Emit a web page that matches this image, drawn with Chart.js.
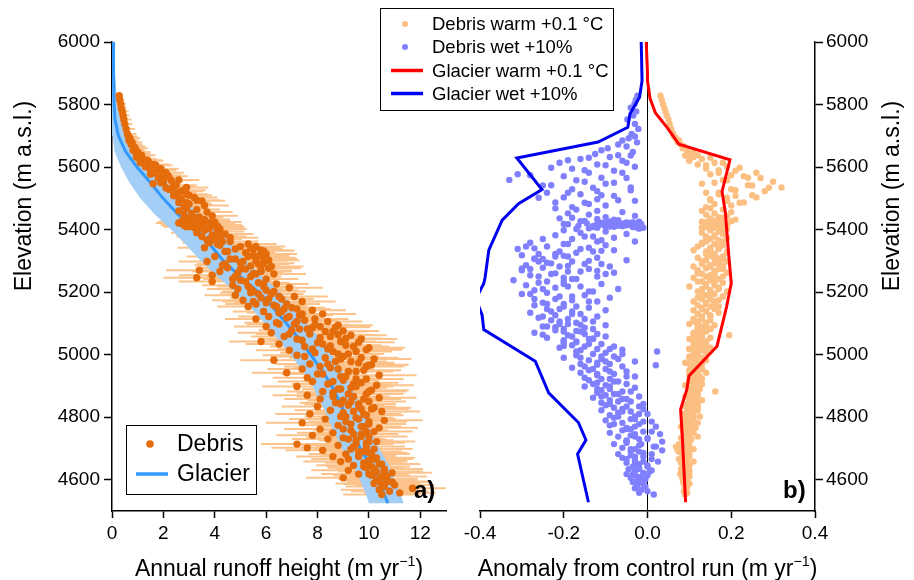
<!DOCTYPE html>
<html><head><meta charset="utf-8">
<script src="https://cdn.jsdelivr.net/npm/chart.js@4.4.1/dist/chart.umd.min.js"></script>
<style>
html,body{margin:0;padding:0;background:#fff;}
#wrap{position:relative;width:914px;height:580px;overflow:hidden;background:#fff;}
canvas{position:absolute;top:0;}
#ca{left:0;width:466px;height:580px;}
#cb{left:370px;width:544px;height:580px;}
</style></head><body>
<div id="wrap"><canvas id="ca" width="466" height="580"></canvas><canvas id="cb" width="544" height="580"></canvas></div>
<script>
// ---------- tick labels ----------
const elevTicks = [4600, 4800, 5000, 5200, 5400, 5600, 5800, 6000];
const runoffTicks = [0, 2, 4, 6, 8, 10, 12];
const anomTicks = [-0.4, -0.2, 0.0, 0.2, 0.4];

// ---------- debris cells (shared elevation) ----------
const debrisElev = [
5828,5815,5802,5790,5778,5765,5752,5738,5722,5706,
5698,5692,5685,5679,5672,5666,5660,5654,5648,5642,
5637,5632,5626,5620,5614,5608,5601,5595,5588,5582,
5577,5571,5565,5559,5553,5547,5541,5535,5529,5523,
5518,5513,5508,5503,5497,5492,5487,5482,5477,5472,
5468,5464,5460,5456,5452,5448,5444,5440,5436,5432,
5428,5425,5422,5420,5418,5415,5412,5409,5406,5402,
5426,5423,5419,5416,5413,5410,5407,5404,5421,5411,
5398,5394,5390,5386,5382,5378,5374,5370,5366,5362,
5358,5354,5350,5346,5342,5338,5334,5330,5326,5322,
5318,5314,5310,5306,5302,5298,5294,5290,5286,5282,
5278,5274,5270,5266,5262,5258,5254,5250,5246,5242,
5238,5234,5230,5226,5222,5218,5214,5210,5206,5202,
5198,5194,5190,5186,5182,5178,5174,5170,5166,5162,
5158,5154,5150,5146,5142,5138,5134,5130,5126,5122,
5118,5114,5110,5106,5102,5098,5094,5090,5086,5082,
5078,5074,5070,5066,5062,5058,5054,5050,5046,5042,
5038,5034,5030,5026,5022,5018,5014,5010,5006,5002,
4998,4994,4990,4986,4982,4978,4974,4970,4966,4962,
4958,4954,4950,4946,4942,4938,4934,4930,4926,4922,
4918,4914,4910,4906,4902,4898,4894,4890,4886,4882,
4878,4874,4870,4866,4862,4858,4854,4850,4846,4842,
4838,4834,4830,4826,4822,4818,4814,4810,4806,4802,
4798,4794,4790,4786,4782,4778,4774,4770,4766,4762,
4758,4754,4750,4746,4742,4738,4734,4730,4726,4722,
4718,4714,4710,4706,4702,4698,4694,4690,4686,4682,
4678,4674,4670,4666,4662,4658,4654,4650,4646,4642,
4638,4634,4630,4626,4622,4618,4614,4610,4606,4602,
4598,4593,4588,4583,4578,4573,4568,4563,4558,4553,
5638,5630,5622,5614,5606,5598,5590,5582,5574,5566,
5558,5550,5542,5534,5526,5518,5510,5502,5494,5486,
5438,5434,5430,5427,5424,5421,5417,5414,5408,5403,
5424,5420,5418,5416,5414,5412,5410,5408,5406,5414,
5378,5370,5362,5354,5346,5338,5330,5322,5314,5306,
5298,5290,5282,5274,5266,5258,5250,5242,5234,5226,
5218,5210,5202,5194,5186,5178,5170,5162,5154,5146,
5138,5130,5122,5114,5106,5098,5090,5082,5074,5066,
5058,5050,5042,5034,5026,5018,5010,5002,4994,4986,
4978,4970,4962,4954,4946,4938,4930,4922,4914,4906,
4898,4890,4882,4874,4866,4858,4850,4842,4834,4826,
4818,4810,4802,4794,4786,4778,4770,4762,4754,4746,
4738,4730,4722,4714,4706,4698,4690,4682,4674,4666,
4658,4650,4642,4634,4626,4618,4610,4602,4594,4586,
5316,5308,5300,5292,5284,5276,5268,5260,5340,5332,
5096,5088,5076,5064,5052,5040,5028,5016,4990,4968];

const debrisRunoff = [
0.28,0.30,0.34,0.36,0.40,0.43,0.46,0.50,0.55,0.60,
0.64,0.70,0.66,0.78,0.74,0.85,0.90,0.82,1.00,0.95,
1.05,0.95,1.20,1.40,1.10,1.60,1.30,1.90,1.50,2.10,
1.50,2.20,1.80,2.60,2.00,1.60,2.40,2.90,2.20,2.70,
2.50,2.90,2.40,3.20,2.70,3.50,2.60,3.00,3.60,2.80,
2.90,3.30,2.60,3.70,3.10,2.80,3.90,3.40,3.00,3.60,
3.20,2.70,3.80,3.00,3.50,4.00,3.30,2.90,3.70,4.20,
3.40,3.60,2.80,3.10,3.90,3.50,3.20,3.80,2.60,4.10,
3.60,4.10,3.30,4.40,3.90,3.50,4.60,4.00,3.70,4.30,
3.80,5.30,4.20,5.60,3.60,4.80,5.80,4.40,5.20,6.00,
5.50,4.00,5.90,4.60,6.10,3.70,5.00,5.70,4.30,6.20,
4.50,5.20,3.40,5.80,4.90,6.30,3.90,5.40,3.30,4.70,
5.00,3.90,5.70,6.40,4.70,5.30,6.90,4.90,6.00,5.50,
5.40,6.20,4.80,7.10,5.80,6.60,5.10,7.40,6.00,5.60,
6.30,5.30,7.00,6.70,7.80,5.90,6.50,8.20,7.30,6.10,
6.80,5.60,7.50,8.40,6.40,7.10,8.80,6.00,7.80,7.30,
7.00,8.60,6.20,7.70,9.30,6.70,8.10,9.70,7.40,5.80,
8.00,6.50,9.10,7.50,10.00,8.40,6.90,9.50,7.90,8.80,
7.20,9.00,8.30,10.20,6.30,8.70,9.60,7.70,10.00,8.10,
8.50,7.40,9.80,9.20,6.80,8.00,10.40,8.90,7.60,9.50,
9.00,7.80,9.70,8.40,10.30,7.20,9.30,8.80,10.10,8.20,
8.60,9.90,7.60,9.40,10.40,8.10,9.00,10.00,8.70,9.60,
9.20,8.00,10.20,9.70,8.50,10.50,9.00,7.70,9.90,8.90,
9.50,8.30,10.60,9.10,7.40,10.00,8.80,9.80,10.40,8.10,
9.30,10.20,8.60,9.70,7.80,10.00,9.00,8.40,9.50,10.30,
9.90,7.20,8.80,9.40,7.60,10.20,8.20,9.60,10.00,9.10,
9.60,8.60,10.30,9.20,10.00,8.90,9.80,10.50,9.40,10.10,
9.90,10.60,9.20,10.30,10.90,9.60,10.10,10.70,9.00,10.40,
10.40,10.90,10.20,11.00,10.60,11.70,10.40,10.80,11.20,10.50,
1.15,1.00,1.35,1.25,1.70,1.45,1.80,1.65,2.00,1.90,
2.30,1.90,2.50,2.10,2.80,2.40,3.00,2.60,3.30,2.90,
3.30,2.80,3.60,3.10,4.00,2.70,3.50,3.90,3.20,3.70,
3.00,3.40,3.80,2.90,3.30,3.60,3.00,4.10,3.40,2.80,
4.20,3.80,4.60,4.10,5.00,5.50,4.50,5.90,5.30,4.80,
5.10,4.40,5.80,5.00,4.20,5.60,4.80,6.00,5.20,5.90,
5.90,5.40,6.30,5.70,6.50,6.10,5.50,6.80,6.40,7.20,
6.60,7.40,6.90,7.90,7.20,6.50,8.10,7.60,8.30,6.90,
8.50,7.20,8.90,8.20,9.40,7.80,8.60,9.20,7.50,8.90,
9.30,8.40,9.90,8.80,9.50,8.20,9.10,9.90,8.60,9.40,
9.50,8.90,10.00,9.20,8.60,9.80,9.30,8.90,9.60,10.10,
9.40,9.80,9.10,9.60,10.00,9.30,9.70,9.00,9.90,9.40,
9.70,9.20,10.00,9.50,9.90,9.30,9.80,10.10,9.60,10.20,
10.00,10.40,9.80,10.20,10.60,10.00,10.50,10.30,10.70,10.50,
5.70,6.00,5.60,5.90,5.40,6.10,5.80,5.50,5.40,5.90,
7.90,8.70,9.00,8.80,9.10,9.60,8.50,9.90,9.70,10.10];

const debrisErr = [
0.15,0.18,0.20,0.20,0.25,0.25,0.30,0.30,0.35,0.35,
0.35,0.40,0.35,0.40,0.45,0.45,0.50,0.45,0.50,0.55,
0.50,0.50,0.55,0.60,0.50,0.65,0.60,0.70,0.65,0.70,
0.70,0.75,0.70,0.80,0.75,0.70,0.80,0.85,0.80,0.85,
0.80,0.85,0.80,0.90,0.85,0.90,0.85,0.90,0.95,0.90,
0.90,0.90,0.85,1.00,0.90,0.90,1.00,0.95,0.90,1.00,
0.95,0.90,1.00,0.90,1.00,1.05,0.95,0.90,1.00,1.05,
1.00,1.00,0.90,0.95,1.05,1.00,0.95,1.00,0.90,1.05,
1.00,1.05,1.00,1.10,1.00,1.00,1.10,1.05,1.00,1.10,
1.05,1.10,1.10,1.15,1.05,1.10,1.20,1.10,1.15,1.20,
1.20,1.10,1.20,1.15,1.20,1.10,1.15,1.20,1.10,1.25,
1.15,1.20,1.30,1.20,1.15,1.25,1.30,1.20,1.30,1.15,
1.20,1.30,1.20,1.25,1.20,1.20,1.30,1.20,1.25,1.20,
1.20,1.25,1.20,1.30,1.20,1.25,1.20,1.30,1.25,1.20,
1.25,1.20,1.30,1.25,1.30,1.20,1.25,1.30,1.30,1.20,
1.30,1.20,1.30,1.35,1.25,1.30,1.35,1.25,1.30,1.30,
1.30,1.35,1.30,1.30,1.40,1.30,1.35,1.40,1.30,1.25,
1.35,1.30,1.40,1.35,1.40,1.35,1.30,1.40,1.35,1.40,
1.35,1.40,1.40,1.45,1.30,1.40,1.40,1.35,1.45,1.40,
1.40,1.35,1.45,1.40,1.35,1.40,1.45,1.40,1.35,1.45,
1.40,1.35,1.45,1.40,1.45,1.35,1.40,1.40,1.45,1.40,
1.40,1.45,1.35,1.40,1.45,1.40,1.40,1.45,1.40,1.45,
1.40,1.40,1.45,1.45,1.40,1.50,1.40,1.35,1.45,1.40,
1.45,1.40,1.50,1.45,1.40,1.45,1.40,1.45,1.50,1.40,
1.45,1.50,1.40,1.45,1.40,1.50,1.45,1.40,1.45,1.50,
1.50,1.40,1.45,1.45,1.40,1.50,1.45,1.45,1.50,1.45,
1.45,1.45,1.50,1.45,1.50,1.45,1.50,1.50,1.45,1.50,
1.50,1.50,1.45,1.50,1.55,1.45,1.50,1.55,1.45,1.50,
1.50,1.55,1.50,1.55,1.50,1.30,1.50,1.50,1.40,1.50,
0.55,0.50,0.60,0.55,0.65,0.60,0.70,0.65,0.70,0.70,
0.80,0.75,0.80,0.80,0.85,0.80,0.90,0.85,0.90,0.90,
0.95,0.90,1.00,0.95,1.05,0.90,1.00,1.05,0.95,1.00,
0.95,1.00,1.00,0.90,0.95,1.00,0.95,1.05,1.00,0.90,
1.05,1.00,1.10,1.05,1.15,1.15,1.10,1.20,1.15,1.15,
1.15,1.10,1.20,1.15,1.10,1.20,1.15,1.25,1.20,1.25,
1.20,1.20,1.25,1.20,1.25,1.25,1.20,1.30,1.25,1.30,
1.25,1.30,1.30,1.30,1.30,1.25,1.35,1.30,1.35,1.30,
1.35,1.30,1.35,1.35,1.40,1.35,1.40,1.40,1.35,1.40,
1.40,1.40,1.45,1.40,1.45,1.40,1.40,1.45,1.40,1.45,
1.45,1.40,1.45,1.45,1.40,1.45,1.45,1.40,1.45,1.45,
1.45,1.45,1.45,1.45,1.50,1.45,1.45,1.40,1.50,1.45,
1.45,1.45,1.50,1.45,1.50,1.45,1.50,1.50,1.45,1.50,
1.50,1.50,1.45,1.50,1.50,1.50,1.50,1.50,1.55,1.50,
1.20,1.20,1.20,1.20,1.15,1.25,1.20,1.20,1.15,1.20,
1.35,1.35,1.40,1.35,1.40,1.40,1.35,1.40,1.45,1.45];

const debrisWarm = [
0.031,0.034,0.037,0.040,0.043,0.046,0.050,0.053,0.057,0.061,
0.064,0.068,0.075,0.072,0.080,0.088,0.084,0.095,0.110,0.100,
0.090,0.110,0.130,0.100,0.160,0.120,0.190,0.140,0.210,0.170,
0.150,0.230,0.270,0.180,0.300,0.130,0.250,0.320,0.200,0.280,
0.140,0.170,0.210,0.260,0.150,0.190,0.230,0.160,0.200,0.140,
0.150,0.180,0.130,0.200,0.160,0.140,0.190,0.170,0.150,0.210,
0.160,0.130,0.180,0.150,0.170,0.140,0.190,0.160,0.130,0.180,
0.170,0.140,0.160,0.190,0.150,0.170,0.130,0.150,0.180,0.160,
0.150,0.170,0.130,0.180,0.160,0.140,0.190,0.150,0.170,0.140,
0.130,0.160,0.180,0.120,0.150,0.170,0.110,0.140,0.190,0.160,
0.150,0.180,0.120,0.160,0.140,0.190,0.130,0.170,0.150,0.110,
0.140,0.170,0.120,0.160,0.190,0.130,0.150,0.180,0.110,0.160,
0.150,0.120,0.180,0.140,0.160,0.100,0.170,0.130,0.150,0.190,
0.130,0.160,0.140,0.180,0.120,0.150,0.170,0.110,0.140,0.160,
0.120,0.150,0.130,0.160,0.110,0.140,0.170,0.120,0.150,0.130,
0.130,0.110,0.150,0.120,0.140,0.100,0.160,0.130,0.120,0.150,
0.120,0.140,0.110,0.130,0.195,0.120,0.150,0.100,0.130,0.140,
0.130,0.110,0.140,0.120,0.150,0.100,0.130,0.120,0.140,0.110,
0.120,0.100,0.130,0.110,0.140,0.120,0.090,0.130,0.110,0.120,
0.110,0.130,0.100,0.120,0.140,0.110,0.100,0.125,0.115,0.130,
0.100,0.120,0.110,0.130,0.090,0.115,0.105,0.125,0.100,0.162,
0.110,0.100,0.120,0.090,0.115,0.105,0.130,0.100,0.120,0.095,
0.100,0.090,0.115,0.105,0.120,0.095,0.110,0.085,0.100,0.125,
0.090,0.110,0.100,0.085,0.120,0.095,0.105,0.080,0.115,0.100,
0.095,0.085,0.110,0.090,0.100,0.120,0.080,0.105,0.090,0.100,
0.090,0.075,0.100,0.068,0.085,0.110,0.072,0.095,0.080,0.100,
0.085,0.100,0.090,0.075,0.095,0.110,0.080,0.090,0.100,0.085,
0.090,0.080,0.100,0.085,0.095,0.078,0.090,0.100,0.083,0.088,
0.090,0.085,0.100,0.088,0.095,0.090,0.092,0.087,0.095,0.090,
0.120,0.150,0.100,0.180,0.140,0.220,0.170,0.260,0.200,0.240,
0.190,0.160,0.240,0.290,0.210,0.170,0.250,0.190,0.150,0.220,
0.180,0.150,0.170,0.200,0.140,0.160,0.180,0.150,0.170,0.190,
0.150,0.170,0.140,0.160,0.180,0.150,0.170,0.140,0.160,0.155,
0.160,0.140,0.180,0.130,0.170,0.150,0.190,0.140,0.160,0.180,
0.170,0.130,0.150,0.180,0.120,0.160,0.140,0.170,0.130,0.160,
0.140,0.170,0.120,0.150,0.180,0.130,0.160,0.140,0.170,0.130,
0.140,0.120,0.150,0.130,0.110,0.140,0.120,0.150,0.130,0.120,
0.130,0.110,0.140,0.120,0.130,0.100,0.140,0.120,0.110,0.130,
0.120,0.100,0.110,0.130,0.100,0.120,0.110,0.120,0.105,0.115,
0.110,0.100,0.120,0.105,0.095,0.115,0.100,0.110,0.120,0.100,
0.100,0.090,0.110,0.095,0.100,0.105,0.090,0.110,0.100,0.095,
0.095,0.085,0.100,0.090,0.080,0.100,0.075,0.090,0.095,0.085,
0.090,0.085,0.095,0.080,0.090,0.100,0.085,0.090,0.095,0.088,
0.150,0.170,0.130,0.160,0.180,0.140,0.160,0.120,0.170,0.150,
0.120,0.140,0.130,0.110,0.120,0.140,0.130,0.110,0.100,0.120];

const debrisWet = [
-0.024,-0.028,-0.031,-0.040,-0.027,-0.034,-0.048,-0.030,-0.022,-0.038,
-0.030,-0.045,-0.060,-0.025,-0.070,-0.050,-0.095,-0.110,-0.035,-0.125,
-0.040,-0.090,-0.160,-0.060,-0.210,-0.120,-0.030,-0.180,-0.080,-0.140,
-0.310,-0.200,-0.050,-0.330,-0.150,-0.100,-0.250,-0.040,-0.180,-0.120,
-0.240,-0.160,-0.080,-0.200,-0.120,-0.030,-0.220,-0.140,-0.100,-0.180,
-0.220,-0.170,-0.120,-0.060,-0.190,-0.140,-0.030,-0.100,-0.210,-0.080,
-0.150,-0.020,-0.110,-0.060,-0.200,-0.040,-0.130,-0.080,-0.010,-0.170,
-0.090,-0.050,-0.120,-0.030,-0.070,-0.100,-0.025,-0.140,-0.045,-0.060,
-0.200,-0.100,-0.160,-0.050,-0.220,-0.130,-0.080,-0.180,-0.110,-0.030,
-0.280,-0.190,-0.100,-0.240,-0.140,-0.310,-0.080,-0.210,-0.170,-0.260,
-0.300,-0.220,-0.120,-0.270,-0.050,-0.180,-0.240,-0.150,-0.290,-0.090,
-0.250,-0.140,-0.300,-0.190,-0.080,-0.230,-0.280,-0.120,-0.200,-0.170,
-0.320,-0.200,-0.260,-0.110,-0.290,-0.160,-0.220,-0.070,-0.270,-0.140,
-0.240,-0.300,-0.150,-0.210,-0.090,-0.270,-0.180,-0.120,-0.250,-0.200,
-0.270,-0.200,-0.140,-0.240,-0.100,-0.180,-0.280,-0.160,-0.220,-0.120,
-0.260,-0.190,-0.230,-0.130,-0.170,-0.210,-0.100,-0.250,-0.150,-0.200,
-0.220,-0.160,-0.270,-0.120,-0.190,-0.100,-0.240,-0.140,-0.200,-0.170,
-0.200,-0.140,-0.180,-0.080,-0.210,-0.120,-0.160,0.023,-0.100,-0.060,
-0.170,-0.110,-0.200,-0.070,-0.140,-0.030,-0.120,-0.090,0.020,-0.150,
-0.180,-0.100,-0.140,-0.050,-0.160,-0.080,-0.120,-0.030,-0.150,-0.090,
-0.140,-0.080,-0.120,-0.050,-0.100,-0.150,-0.030,-0.090,-0.110,-0.060,
-0.120,-0.070,-0.100,-0.020,-0.130,-0.060,-0.090,-0.040,-0.110,-0.010,
-0.100,-0.050,-0.080,-0.010,-0.110,-0.040,-0.070,0.000,-0.090,-0.030,
-0.080,-0.030,-0.100,0.010,-0.060,-0.020,-0.090,0.020,-0.050,-0.040,
-0.060,-0.010,-0.090,0.030,-0.040,-0.070,0.000,-0.020,-0.050,0.035,
-0.050,-0.080,-0.020,0.020,-0.060,-0.030,0.035,-0.040,-0.010,-0.070,
-0.040,-0.010,-0.060,0.010,-0.030,0.025,-0.050,-0.020,0.000,-0.035,
-0.020,-0.045,0.010,-0.030,-0.010,-0.050,0.000,-0.025,-0.040,-0.015,
-0.020,-0.035,-0.010,-0.025,-0.005,-0.030,-0.015,0.000,-0.020,0.015,
-0.070,-0.140,-0.190,-0.050,-0.100,-0.230,-0.150,-0.060,-0.280,-0.110,
-0.170,-0.080,-0.230,-0.130,-0.040,-0.190,-0.110,-0.260,-0.070,-0.150,
-0.180,-0.120,-0.070,-0.160,-0.035,-0.100,-0.190,-0.055,-0.130,-0.020,
-0.080,-0.145,-0.015,-0.110,-0.050,-0.165,-0.090,-0.035,-0.120,-0.070,
-0.150,-0.250,-0.120,-0.200,-0.290,-0.160,-0.130,-0.220,-0.190,-0.250,
-0.260,-0.110,-0.210,-0.280,-0.160,-0.100,-0.260,-0.180,-0.240,-0.200,
-0.190,-0.250,-0.130,-0.280,-0.180,-0.220,-0.140,-0.240,-0.170,-0.210,
-0.230,-0.180,-0.250,-0.150,-0.210,-0.190,-0.240,-0.130,-0.200,-0.150,
-0.180,-0.130,-0.200,-0.110,-0.150,-0.090,-0.170,-0.130,-0.080,-0.110,
-0.100,-0.160,-0.060,-0.130,-0.090,-0.120,-0.050,-0.110,-0.070,-0.130,
-0.090,-0.120,-0.040,-0.080,-0.110,-0.050,-0.070,-0.090,-0.020,-0.060,
-0.060,-0.020,-0.070,-0.040,-0.010,-0.080,-0.030,-0.050,0.010,-0.030,
-0.030,0.000,-0.050,-0.015,0.015,-0.040,-0.020,0.010,-0.030,-0.050,
-0.010,-0.030,0.000,-0.020,0.005,-0.035,-0.015,-0.005,-0.025,-0.010,
-0.200,-0.270,-0.140,-0.230,-0.190,-0.300,-0.120,-0.220,-0.270,-0.110,
-0.160,-0.220,-0.170,-0.250,-0.130,-0.170,-0.200,-0.060,-0.160,-0.120];

// ---------- glacier (clean ice) profile, panel a ----------
const glacierElev   = [6000,5900,5800,5750,5700,5650,5600,5550,5500,5450,5400,5350,5300,5250,5200,5150,5100,5050,5000,4950,4900,4850,4800,4750,4700,4650,4600,4550,4525];
const glacierRunoff = [0.05,0.06,0.08,0.12,0.25,0.53,0.97,1.50,1.99,2.55,3.28,3.83,4.34,4.98,5.70,6.28,6.79,7.28,7.73,8.17,8.56,8.85,9.12,9.37,9.66,10.04,10.35,10.61,10.74];
const glacierLow    = [0.00,0.00,0.00,0.01,0.03,0.10,0.35,0.68,1.10,1.65,2.30,2.90,3.45,4.10,4.80,5.40,5.95,6.45,6.95,7.40,7.80,8.10,8.40,8.65,8.95,9.35,9.65,9.90,10.00];
const glacierHigh   = [0.10,0.12,0.20,0.35,0.60,1.00,1.55,2.15,2.75,3.40,4.10,4.70,5.25,5.85,6.55,7.10,7.60,8.10,8.55,8.95,9.30,9.60,9.85,10.10,10.40,10.75,11.00,11.25,11.35];

// ---------- glacier anomalies, panel b ----------
const gWarmElev = [6000,5900,5876,5820,5773,5726,5673,5623,5522,5455,5334,5229,5154,5027,4932,4889,4825,4740,4528];
const gWarmAnom = [-0.003,0.000,0.000,0.006,0.019,0.047,0.075,0.197,0.178,0.186,0.193,0.200,0.189,0.166,0.099,0.094,0.079,0.083,0.091];
const gWetElev  = [6000,5876,5823,5770,5727,5680,5629,5528,5483,5430,5334,5245,5228,5178,5127,5080,4979,4878,4783,4727,4682,4528];
const gWetAnom  = [-0.015,-0.013,-0.019,-0.042,-0.047,-0.118,-0.312,-0.252,-0.308,-0.347,-0.379,-0.388,-0.391,-0.410,-0.395,-0.391,-0.268,-0.236,-0.165,-0.147,-0.167,-0.141];

// ---------- styles ----------
const FONT = '"Liberation Sans", Arial, Helvetica, sans-serif';
const C_DEBRIS = '#e46c0a', C_ERR = '#fcc38c', C_GLINE = '#3399ff', C_BAND = '#a3cff7';
const C_WARM = '#fcbf82', C_WET = '#8080ff', C_RED = '#ff0000', C_BLUE = '#0000f0';

// ---------- build datasets ----------
const ptsA = debrisElev.map((e, i) => ({x: debrisRunoff[i], y: e}));
const errA = [];
debrisElev.forEach((e, i) => {
  errA.push({x: debrisRunoff[i] - debrisErr[i], y: e}, {x: debrisRunoff[i] + debrisErr[i], y: e}, {x: NaN, y: NaN});
});
const lineA = glacierElev.map((e, i) => ({x: glacierRunoff[i], y: e}));
const bandA = glacierElev.map((e, i) => ({x: glacierHigh[i], y: e}))
  .concat(glacierElev.map((e, i) => ({x: glacierLow[i], y: e})).reverse());
const warmPts = debrisElev.map((e, i) => ({x: debrisWarm[i], y: e}));
const wetPts = debrisElev.map((e, i) => ({x: debrisWet[i], y: e}));
const warmLine = gWarmElev.map((e, i) => ({x: gWarmAnom[i], y: e}));
const wetLine = gWetElev.map((e, i) => ({x: gWetAnom[i], y: e}));

function setTicks(list) { return (s) => { s.ticks = list.map(v => ({value: v})); }; }
const tickFont = {family: FONT, size: 19};

function supText(c, cx, baseY, pre, sup, post, size) {
  c.font = size + 'px ' + FONT; const w1 = c.measureText(pre).width, w3 = c.measureText(post).width;
  c.font = (size * 0.62) + 'px ' + FONT; const w2 = c.measureText(sup).width;
  let x = cx - (w1 + w2 + w3) / 2;
  c.textAlign = 'left'; c.textBaseline = 'alphabetic'; c.fillStyle = '#000';
  c.font = size + 'px ' + FONT; c.fillText(pre, x, baseY); x += w1;
  c.font = (size * 0.62) + 'px ' + FONT; c.fillText(sup, x, baseY - size * 0.42); x += w2;
  c.font = size + 'px ' + FONT; c.fillText(post, x, baseY);
}
function vText(c, x, y, t, size) {
  c.save(); c.translate(x, y); c.rotate(-Math.PI / 2);
  c.font = size + 'px ' + FONT; c.fillStyle = '#000'; c.textAlign = 'center'; c.textBaseline = 'middle';
  c.fillText(t, 0, 0); c.restore();
}

const decoA = {id: 'decoA', afterDraw(chart) {
  const c = chart.ctx; c.save();
  vText(c, 25, 196, 'Elevation (m a.s.l.)', 23);
  supText(c, 279, 576, 'Annual runoff height (m yr', '\u22121', ')', 23);
  // legend
  c.fillStyle = '#fff'; c.fillRect(127, 425, 130, 69);
  c.strokeStyle = '#000'; c.lineWidth = 1; c.strokeRect(126.5, 425.5, 130, 69);
  c.fillStyle = C_DEBRIS; c.beginPath(); c.arc(150, 444, 3.8, 0, Math.PI * 2); c.fill();
  c.strokeStyle = C_GLINE; c.lineWidth = 3.5; c.beginPath(); c.moveTo(136, 474); c.lineTo(168, 474); c.stroke();
  c.fillStyle = '#000'; c.font = '23px ' + FONT; c.textAlign = 'left'; c.textBaseline = 'middle';
  c.fillText('Debris', 177, 445); c.fillText('Glacier', 177, 475);
  c.font = 'bold 24px ' + FONT; c.fillText('a)', 414, 491);
  c.restore();
}};

const OX = 370; // canvas b offset
const decoB = {id: 'decoB', afterDraw(chart) {
  const c = chart.ctx; c.save();
  vText(c, 893 - OX, 196, 'Elevation (m a.s.l.)', 23);
  supText(c, 647.5 - OX, 576, 'Anomaly from control run (m yr', '\u22121', ')', 23);
  // legend
  c.fillStyle = '#fff'; c.fillRect(380 - OX, 8, 233, 102);
  c.strokeStyle = '#000'; c.lineWidth = 1; c.strokeRect(380.5 - OX, 8.5, 233, 102);
  const ys = [24, 47, 70.5, 93.5];
  c.fillStyle = C_WARM; c.beginPath(); c.arc(405 - OX, ys[0], 3, 0, Math.PI * 2); c.fill();
  c.fillStyle = C_WET; c.beginPath(); c.arc(405 - OX, ys[1], 3, 0, Math.PI * 2); c.fill();
  c.lineWidth = 3.5;
  c.strokeStyle = C_RED; c.beginPath(); c.moveTo(391 - OX, ys[2]); c.lineTo(423 - OX, ys[2]); c.stroke();
  c.strokeStyle = C_BLUE; c.beginPath(); c.moveTo(391 - OX, ys[3]); c.lineTo(423 - OX, ys[3]); c.stroke();
  c.fillStyle = '#000'; c.font = '18.5px ' + FONT; c.textAlign = 'left'; c.textBaseline = 'middle';
  const labs = ['Debris warm +0.1 \u00B0C', 'Debris wet +10%', 'Glacier warm +0.1 \u00B0C', 'Glacier wet +10%'];
  labs.forEach((t, i) => c.fillText(t, 432 - OX, ys[i] + 1));
  c.font = 'bold 24px ' + FONT; c.fillText('b)', 783 - OX, 491);
  c.restore();
}};

const baseOpts = (padding, scales) => ({
  responsive: false, animation: false, events: [],
  layout: {padding},
  plugins: {legend: {display: false}, tooltip: {enabled: false}},
  scales
});

new Chart(document.getElementById('ca'), {
  type: 'scatter',
  data: {datasets: [
    {data: ptsA, pointRadius: 3.7, pointBackgroundColor: C_DEBRIS, pointBorderWidth: 0, order: 0},
    {data: lineA, showLine: true, pointRadius: 0, borderColor: C_GLINE, borderWidth: 3, order: 1},
    {data: bandA, showLine: true, pointRadius: 0, borderWidth: 0, borderColor: 'rgba(0,0,0,0)', backgroundColor: C_BAND, fill: 'shape', order: 2},
    {data: errA, showLine: true, pointRadius: 0, borderColor: C_ERR, borderWidth: 2, spanGaps: false, order: 3}
  ]},
  options: baseOpts({top: 42, right: 20, left: 0, bottom: 0}, {
    x: {type: 'linear', min: 0, max: 13, position: 'bottom',
        afterBuildTicks: setTicks(runoffTicks), afterFit: s => { s.height = 69; },
        grid: {drawOnChartArea: false, drawTicks: true, tickLength: 7, tickColor: '#000', tickWidth: 1.5},
        border: {display: true, color: '#000', width: 1.5},
        ticks: {color: '#000', font: tickFont, padding: 4, maxRotation: 0, autoSkip: false, callback: v => String(v)}},
    y: {type: 'linear', min: 4500, max: 6000, position: 'left',
        afterBuildTicks: setTicks(elevTicks), afterFit: s => { s.width = 112; },
        grid: {drawOnChartArea: false, drawTicks: true, tickLength: 8, tickColor: '#000', tickWidth: 1.5},
        border: {display: true, color: '#000', width: 1.5},
        ticks: {color: '#000', font: tickFont, padding: 4, autoSkip: false, callback: v => String(v)}}
  }),
  plugins: [decoA]
});

new Chart(document.getElementById('cb'), {
  type: 'scatter',
  data: {datasets: [
    {data: wetLine, showLine: true, pointRadius: 0, borderColor: C_BLUE, borderWidth: 3, order: 0},
    {data: warmLine, showLine: true, pointRadius: 0, borderColor: C_RED, borderWidth: 3, order: 0},
    {data: warmPts, pointRadius: 3.2, pointBackgroundColor: C_WARM, pointBorderWidth: 0, order: 2},
    {data: wetPts, pointRadius: 3.2, pointBackgroundColor: C_WET, pointBorderWidth: 0, order: 2}
  ]},
  options: baseOpts({top: 42, right: 0, left: 110, bottom: 0}, {
    x: {type: 'linear', min: -0.4, max: 0.4, position: 'bottom',
        afterBuildTicks: setTicks(anomTicks), afterFit: s => { s.height = 69; },
        grid: {drawOnChartArea: true, drawTicks: true, tickLength: 7, tickColor: '#000', tickWidth: 1.5,
               color: ctx => (ctx.tick && Math.abs(ctx.tick.value) < 1e-9) ? '#000' : 'rgba(0,0,0,0)', lineWidth: 1},
        border: {display: true, color: '#000', width: 1.5},
        ticks: {color: '#000', font: tickFont, padding: 4, maxRotation: 0, autoSkip: false, callback: v => Number(v).toFixed(1)}},
    y: {type: 'linear', min: 4500, max: 6000, position: 'right',
        afterBuildTicks: setTicks(elevTicks), afterFit: s => { s.width = 99; },
        grid: {drawOnChartArea: false, drawTicks: true, tickLength: 8, tickColor: '#000', tickWidth: 1.5},
        border: {display: true, color: '#000', width: 1.5},
        ticks: {color: '#000', font: tickFont, padding: 3, autoSkip: false, callback: v => String(v)}}
  }),
  plugins: [decoB]
});
</script>
</body></html>
